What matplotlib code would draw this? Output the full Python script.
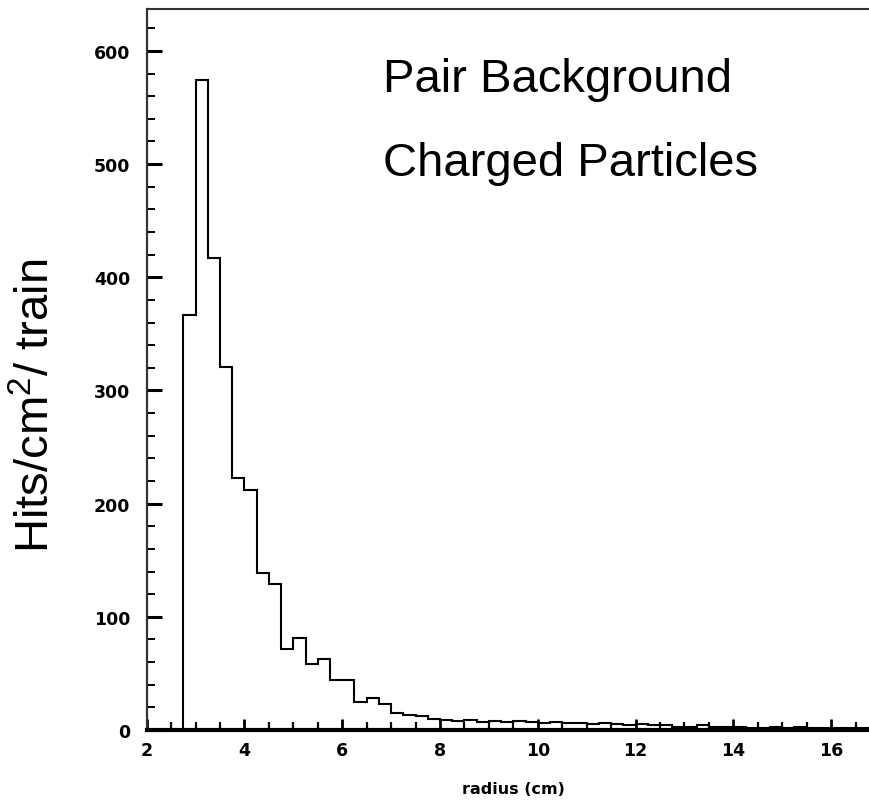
import numpy as np
import matplotlib
matplotlib.use("Agg")
import matplotlib.pyplot as plt
from matplotlib.ticker import MultipleLocator

# bin edges (cm) and hit densities per bin
bin_width = 0.25
bin_start = 2.75
hits = [367, 574, 417, 321, 223, 212, 139, 129, 72, 81, 58, 63, 44, 44,
        24.5, 28, 23, 15, 13, 12, 10,
        9, 8, 9, 7, 8, 7, 8, 7, 6, 7, 6, 6, 5, 6, 5, 4, 5, 4, 4, 3,
        3, 4, 3, 3, 3, 2, 2, 3, 2, 3, 2, 2, 2, 2, 2, 2]
edges = bin_start + bin_width * np.arange(len(hits) + 1)

x_ticks = [2, 4, 6, 8, 10, 12, 14, 16]
y_ticks = [0, 100, 200, 300, 400, 500, 600]

fig = plt.figure(figsize=(8.7, 8.03), dpi=100)
ax = fig.add_axes([146.7 / 870, 72 / 803, (880 - 146.7) / 870, 721 / 803])

ax.stairs(hits, edges, baseline=0, fill=False, color="black", linewidth=1.5)

ax.set_xlim(2, 17)
ax.set_ylim(0, 637)
ax.set_xticks(x_ticks)
ax.set_yticks(y_ticks)
ax.xaxis.set_minor_locator(MultipleLocator(0.5))
ax.yaxis.set_minor_locator(MultipleLocator(20))

ax.tick_params(which="both", direction="in", top=False, right=False, color="black")
ax.tick_params(axis="y", which="major", length=11, width=2.2, pad=12)
ax.tick_params(axis="y", which="minor", length=5.5, width=1.4)
ax.tick_params(axis="x", which="major", length=8, width=2.0, pad=8)
ax.tick_params(axis="x", which="minor", length=6, width=1.6)

for lab in ax.get_xticklabels() + ax.get_yticklabels():
    lab.set_fontweight("bold")
    lab.set_fontsize(12.5)
    lab.set_family("DejaVu Sans")

ax.spines["bottom"].set_linewidth(3.0)
ax.spines["left"].set_linewidth(1.6)
ax.spines["top"].set_linewidth(1.5)
ax.spines["top"].set_color("#333333")
ax.spines["left"].set_color("#333333")

ax.set_xlabel("radius (cm)", fontsize=11.5, fontweight="bold", labelpad=16)

ax.text(6.83, 564.6, "Pair Background", fontsize=34, family="Liberation Sans",
        va="baseline", ha="left")
ax.text(6.83, 490.5, "Charged Particles", fontsize=34, family="Liberation Sans",
        va="baseline", ha="left")

fig.text(59 / 870, 1 - 406 / 803, r"Hits/cm$^{\mathregular{2}}$/ train",
         fontsize=34, family="Liberation Sans", rotation=90,
         ha="right", va="center")

fig.savefig("out.png", dpi=100, facecolor="white")
